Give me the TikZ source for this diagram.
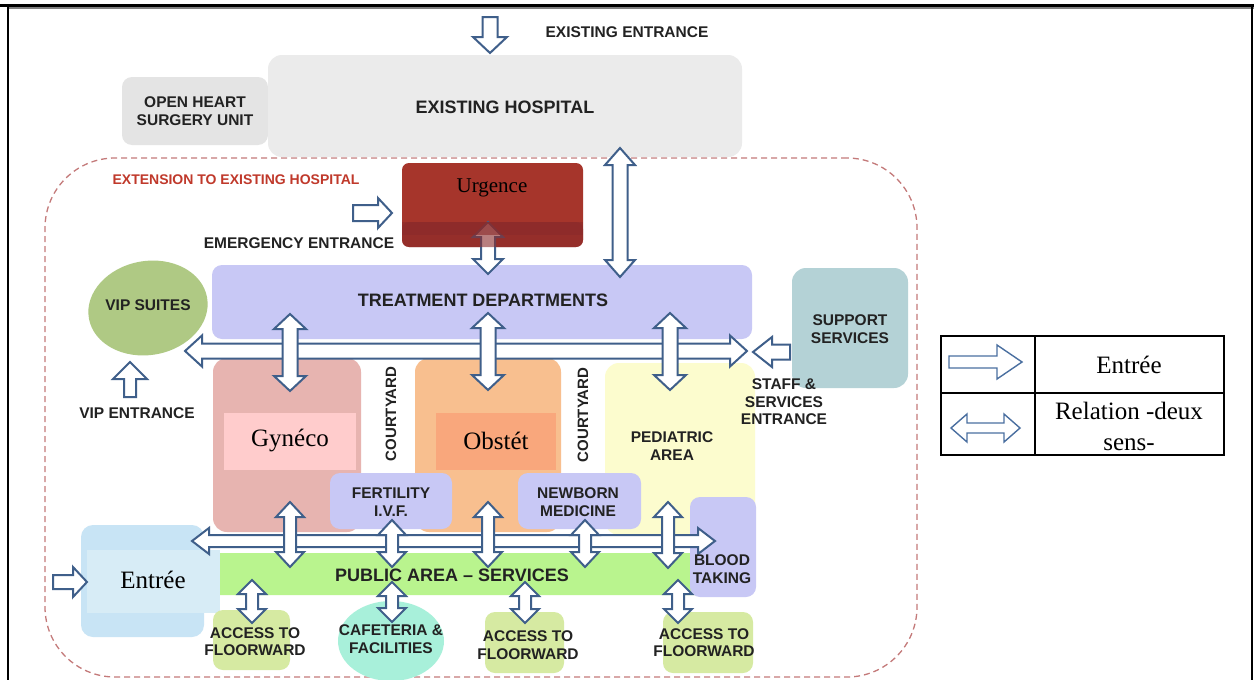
\documentclass[tikz,border=0pt]{standalone}
\usepackage{fontspec}
\setmainfont{Liberation Serif}
\newfontfamily\lsans[Ligatures=TeX]{Liberation Sans}
\usetikzlibrary{calc,shapes.geometric}
\definecolor{arrc}{HTML}{3F5F8A}
\definecolor{txt}{HTML}{222222}
\definecolor{ehc}{HTML}{EBEBEB}
\definecolor{ohsc}{HTML}{E4E4E4}
\definecolor{urgc}{HTML}{A6352B}
\definecolor{urgdark}{HTML}{8A2A2A}
\definecolor{lavc}{HTML}{C8C8F5}
\definecolor{vipc}{HTML}{AFC984}
\definecolor{supc}{HTML}{B4D2D6}
\definecolor{gync}{HTML}{E7B4B0}
\definecolor{gyninner}{HTML}{FFCCCC}
\definecolor{obsc}{HTML}{F8BF8F}
\definecolor{obsinner}{HTML}{F9A77C}
\definecolor{pedc}{HTML}{FCFCCE}
\definecolor{pubc}{HTML}{B9F48E}
\definecolor{entc}{HTML}{C8E4F5}
\definecolor{entinner}{HTML}{D7ECF6}
\definecolor{accc}{HTML}{D6EAA2}
\definecolor{cafc}{HTML}{A8F0DA}
\definecolor{dashc}{HTML}{C47A7A}
\definecolor{extred}{HTML}{C0392B}
\definecolor{legarr}{HTML}{4A6FA0}

\tikzset{
  lbl/.style={font=\lsans\bfseries\fontsize{15.5}{17.5}\selectfont, text=txt, align=center, inner sep=0pt},
  biglbl/.style={font=\lsans\bfseries\fontsize{18}{20}\selectfont, text=txt, align=center, inner sep=0pt},
  serif/.style={font=\fontsize{25}{31}\selectfont, text=black, align=center, inner sep=0pt},
  zone/.style={rectangle, rounded corners=10pt, inner sep=0pt, draw=none},
  flat/.style={rectangle, inner sep=0pt, draw=none},
  barrow/.style={draw=arrc, fill=white, line width=2pt, line join=miter},
}

% vertical double arrow: top tip, bottom tip, head half width, shaft half width, head length
\newcommand\VDArrow[5]{\draw[barrow] (#1) -- ($(#1)+(#3,#5)$) -- ($(#1)+(#4,#5)$) -- ($(#2)+(#4,-#5)$) -- ($(#2)+(#3,-#5)$) -- (#2) -- ($(#2)+(-#3,-#5)$) -- ($(#2)+(-#4,-#5)$) -- ($(#1)+(-#4,#5)$) -- ($(#1)+(-#3,#5)$) -- cycle;}
% horizontal double arrow: left tip, right tip
\newcommand\HDArrow[5]{\draw[barrow] (#1) -- ($(#1)+(#5,-#3)$) -- ($(#1)+(#5,-#4)$) -- ($(#2)+(-#5,-#4)$) -- ($(#2)+(-#5,-#3)$) -- (#2) -- ($(#2)+(-#5,#3)$) -- ($(#2)+(-#5,#4)$) -- ($(#1)+(#5,#4)$) -- ($(#1)+(#5,#3)$) -- cycle;}
% single arrows: tail, tip
\newcommand\RArrow[5]{\draw[barrow] ($(#1)+(0,-#4)$) -- ($(#2)+(-#5,-#4)$) -- ($(#2)+(-#5,-#3)$) -- (#2) -- ($(#2)+(-#5,#3)$) -- ($(#2)+(-#5,#4)$) -- ($(#1)+(0,#4)$) -- cycle;}
\newcommand\LArrow[5]{\draw[barrow] ($(#1)+(0,-#4)$) -- ($(#2)+(#5,-#4)$) -- ($(#2)+(#5,-#3)$) -- (#2) -- ($(#2)+(#5,#3)$) -- ($(#2)+(#5,#4)$) -- ($(#1)+(0,#4)$) -- cycle;}
\newcommand\DArrow[5]{\draw[barrow] ($(#1)+(-#4,0)$) -- ($(#2)+(-#4,-#5)$) -- ($(#2)+(-#3,-#5)$) -- (#2) -- ($(#2)+(#3,-#5)$) -- ($(#2)+(#4,-#5)$) -- ($(#1)+(#4,0)$) -- cycle;}
\newcommand\UArrow[5]{\draw[barrow] ($(#1)+(-#4,0)$) -- ($(#2)+(-#4,#5)$) -- ($(#2)+(-#3,#5)$) -- (#2) -- ($(#2)+(#3,#5)$) -- ($(#2)+(#4,#5)$) -- ($(#1)+(#4,0)$) -- cycle;}

\begin{document}
\begin{tikzpicture}[x=1pt,y=-1pt]
\useasboundingbox (0,0) rectangle (1254,680);
\fill[white] (0,0) rectangle (1254,680);

% outer frame
\draw[line width=2.6pt] (0,5.3) -- (1254,5.3);
\draw[line width=1.6pt, gray] (8,7.8) -- (1254,7.8);
\draw[line width=2pt] (8,7) -- (8,680);
\draw[line width=2pt] (1252.3,7) -- (1252.3,680);

% extension boundary
\node[draw=dashc, dash pattern=on 6pt off 4pt, line width=1.3pt, rounded corners=70pt, minimum width=872pt, minimum height=519pt, inner sep=0pt] (extbox) at (481,417.5) {};

% existing hospital
\node[zone, fill=ohsc, minimum width=146pt, minimum height=68pt] (ohs) at (195,111) {};
\node[zone, fill=ehc, rounded corners=14pt, minimum width=474pt, minimum height=102pt] (eh) at (505,106) {};
\node[lbl] (ohsT) at (195,111) {OPEN HEART\\SURGERY UNIT};
\node[biglbl] (ehT) at (505,107) {EXISTING HOSPITAL};
\node[lbl] (eeT) at (627,32) {EXISTING ENTRANCE};
\coordinate (ee1) at (490,17);
\coordinate (ee2) at (490,53);
\DArrow{ee1}{ee2}{17}{7.5}{16}

% extension label and urgence
\node[lbl, text=extred, font=\lsans\bfseries\fontsize{14}{16}\selectfont] (extT) at (236,180) {EXTENSION TO EXISTING HOSPITAL};
\node[zone, fill=urgc, rounded corners=7pt, minimum width=181pt, minimum height=84pt] (urg) at (492.5,205) {};
\node[lbl] (emT) at (299,243) {EMERGENCY ENTRANCE};

% treatment, vip, support
\node[zone, fill=lavc, minimum width=540pt, minimum height=74pt] (treat) at (482,302) {};
\node[ellipse, fill=vipc, minimum width=120pt, minimum height=94pt, rotate=10, inner sep=0pt] (vip) at (148,308) {};
\node[zone, fill=supc, rounded corners=14pt, minimum width=116pt, minimum height=120pt] (sup) at (850,328) {};

% zones
\node[zone, fill=gync, rounded corners=14pt, minimum width=148pt, minimum height=174pt] (gyn) at (287,445) {};
\node[flat, fill=gyninner, minimum width=132pt, minimum height=57pt] (gynI) at (290,441.5) {};
\node[zone, fill=obsc, rounded corners=14pt, minimum width=146pt, minimum height=174pt] (obs) at (488,445) {};
\node[flat, fill=obsinner, minimum width=120pt, minimum height=57pt] (obsI) at (496,441.5) {};
\node[zone, fill=pedc, rounded corners=14pt, minimum width=150pt, minimum height=172pt] (ped) at (680,449) {};

% lower blocks
\node[zone, fill=pubc, rounded corners=2pt, minimum width=517pt, minimum height=42pt] (pub) at (471.5,574) {};
\node[zone, fill=lavc, minimum width=122pt, minimum height=56pt] (fert) at (391,501) {};
\node[zone, fill=lavc, minimum width=123pt, minimum height=56pt] (newb) at (579.5,501) {};
\node[zone, fill=lavc, minimum width=66pt, minimum height=100pt] (blood) at (723,547) {};
\node[zone, fill=entc, rounded corners=12pt, minimum width=123pt, minimum height=112pt] (ent) at (142.5,581) {};
\node[flat, fill=entinner, minimum width=133pt, minimum height=63pt] (entI) at (153.5,581.5) {};
\node[zone, fill=accc, minimum width=77pt, minimum height=60pt] (acc1) at (251.5,640) {};
\node[zone, fill=accc, minimum width=79pt, minimum height=61pt] (acc2) at (524.5,642.5) {};
\node[zone, fill=accc, minimum width=90pt, minimum height=61pt] (acc3) at (708,642.5) {};
\node[ellipse, fill=cafc, minimum width=106pt, minimum height=80pt, inner sep=0pt] (caf) at (391,641) {};

% ---- arrows ----
\coordinate (em1) at (353,213); \coordinate (em2) at (392,213);
\RArrow{em1}{em2}{15}{8}{14}
\coordinate (ua1) at (488,222); \coordinate (ua2) at (488,274);
\VDArrow{ua1}{ua2}{15}{7}{15}
\fill[urgdark, opacity=0.6, rounded corners=7pt] (402,222) -- (583,222) -- (583,247) -- (402,247) -- cycle;
\fill[urgdark, opacity=0.6] (402,222) rectangle (583,235);
\coordinate (eha1) at (620,148); \coordinate (eha2) at (620,277);
\VDArrow{eha1}{eha2}{15}{7.5}{17}

\coordinate (vp1) at (130,397); \coordinate (vp2) at (130,362);
\UArrow{vp1}{vp2}{17}{6}{17}
\coordinate (st1) at (790,352); \coordinate (st2) at (753,352);
\LArrow{st1}{st2}{15}{7.5}{19}
\coordinate (hu1) at (185,351); \coordinate (hu2) at (747,351);
\HDArrow{hu1}{hu2}{15.5}{7.5}{17}
\coordinate (t1a) at (290,314); \coordinate (t1b) at (290,391);
\VDArrow{t1a}{t1b}{16}{7.5}{15}
\coordinate (t2a) at (488,313); \coordinate (t2b) at (488,390);
\VDArrow{t2a}{t2b}{16}{7.5}{15}
\coordinate (t3a) at (670,313); \coordinate (t3b) at (670,390);
\VDArrow{t3a}{t3b}{16}{7.5}{15}

\coordinate (en1) at (53,582); \coordinate (en2) at (87,582);
\RArrow{en1}{en2}{15}{7}{14}
\coordinate (hl1) at (192,541); \coordinate (hl2) at (715,541);
\HDArrow{hl1}{hl2}{13}{6}{17}
\coordinate (l1a) at (290,502); \coordinate (l1b) at (290,567);
\VDArrow{l1a}{l1b}{14}{6}{15}
\coordinate (l2a) at (392,520); \coordinate (l2b) at (392,567);
\VDArrow{l2a}{l2b}{14}{6}{15}
\coordinate (l3a) at (488,502); \coordinate (l3b) at (488,567);
\VDArrow{l3a}{l3b}{14}{6}{15}
\coordinate (l4a) at (585,520); \coordinate (l4b) at (585,567);
\VDArrow{l4a}{l4b}{14}{6}{15}
\coordinate (l5a) at (668,502); \coordinate (l5b) at (668,568);
\VDArrow{l5a}{l5b}{14}{6}{15}
\coordinate (b1a) at (252,580); \coordinate (b1b) at (252,623);
\VDArrow{b1a}{b1b}{14}{6}{14}
\coordinate (b2a) at (392,582); \coordinate (b2b) at (392,622);
\VDArrow{b2a}{b2b}{14}{6}{14}
\coordinate (b3a) at (525,582); \coordinate (b3b) at (525,623);
\VDArrow{b3a}{b3b}{14}{6}{14}
\coordinate (b4a) at (678,580); \coordinate (b4b) at (678,623);
\VDArrow{b4a}{b4b}{14}{6}{14}

% ---- texts ----
\node[serif, font=\fontsize{21}{24}\selectfont] (urgT) at (492,188) {Urgence};
\node[biglbl] (treatT) at (483,300) {TREATMENT DEPARTMENTS};
\node[lbl] (vipT) at (148,305) {VIP SUITES};
\node[lbl] (vipeT) at (137,413) {VIP ENTRANCE};
\node[lbl] (supT) at (850,329) {SUPPORT\\SERVICES};
\node[lbl] (stT) at (784,402) {STAFF \&\\SERVICES\\ENTRANCE};
\node[serif] (gynT) at (290,441) {Gynéco};
\node[serif] (obsT) at (496,441) {Obstét};
\node[lbl, font=\lsans\bfseries\fontsize{15}{17}\selectfont, rotate=90] (cy1) at (391,414) {COURTYARD};
\node[lbl, font=\lsans\bfseries\fontsize{15}{17}\selectfont, rotate=90] (cy2) at (583,415) {COURTYARD};
\node[lbl] (pedT) at (672,446) {PEDIATRIC\\AREA};
\node[lbl] (fertT) at (391,502) {FERTILITY\\I.V.F.};
\node[lbl] (newbT) at (578,502) {NEWBORN\\MEDICINE};
\node[biglbl] (pubT) at (452,575) {PUBLIC AREA – SERVICES};
\node[lbl] (bloodT) at (722,569) {BLOOD\\TAKING};
\node[serif] (entT) at (153,580) {Entrée};
\node[lbl] (acc1T) at (255,641.5) {ACCESS TO\\FLOORWARD};
\node[lbl] (acc2T) at (528,645) {ACCESS TO\\FLOORWARD};
\node[lbl] (acc3T) at (704,642.5) {ACCESS TO\\FLOORWARD};
\node[lbl] (cafT) at (391,639) {CAFETERIA \&\\FACILITIES};

% ---- legend ----
\draw[line width=1.5pt] (941,336) rectangle (1224,455);
\draw[line width=1.5pt] (1035,336) -- (1035,455);
\draw[line width=1.5pt] (941,393) -- (1224,393);
\begin{scope}[barrow/.style={draw=legarr, fill=white, line width=1.4pt, line join=miter}]
\coordinate (lg1) at (949,362); \coordinate (lg2) at (1022,362);
\RArrow{lg1}{lg2}{17}{6}{25}
\coordinate (lg3) at (951,428); \coordinate (lg4) at (1020,428);
\HDArrow{lg3}{lg4}{14}{5}{16}
\end{scope}
\node[serif] (legT1) at (1129,365) {Entrée};
\node[serif] (legT2) at (1129,426) {Relation -deux\\sens-};
\end{tikzpicture}
\end{document}
